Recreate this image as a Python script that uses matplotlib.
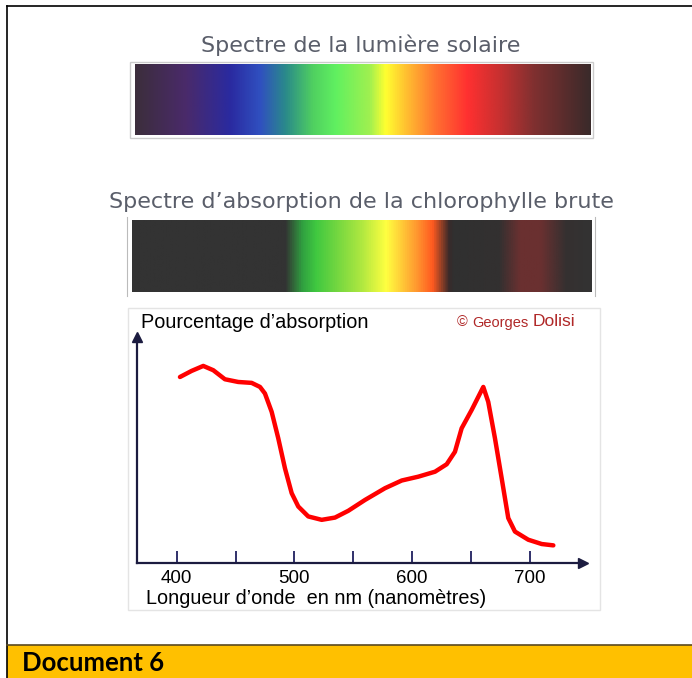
import matplotlib
matplotlib.use("Agg")
import matplotlib.pyplot as plt
import numpy as np
from matplotlib.colors import LinearSegmentedColormap
from matplotlib.patches import Rectangle
from matplotlib.lines import Line2D

# courbe d'absorption (longueur d'onde en nm, absorption en %)
wavelength = [402.8, 412.7, 422.6, 431.1, 441.0, 452.3, 463.7, 470.8, 475.0, 480.7,
              486.3, 492.0, 497.7, 503.3, 511.8, 523.2, 534.5, 545.8, 560.0, 577.0,
              591.2, 605.3, 619.5, 629.4, 636.4, 642.1, 650.6, 660.5, 664.7, 670.4,
              676.1, 681.7, 687.4, 698.7, 710.1, 720.0]
absorption = [82.3, 85.0, 87.2, 85.3, 81.3, 80.1, 79.7, 77.9, 75.0, 66.9,
              55.2, 41.9, 30.9, 25.0, 20.6, 19.1, 20.1, 23.1, 27.9, 33.1,
              36.5, 38.2, 40.4, 43.7, 49.2, 59.6, 67.7, 77.9, 71.3, 55.2,
              37.5, 19.9, 13.9, 10.3, 8.4, 7.8]
major_ticks = [400, 500, 600, 700]
minor_ticks = [450, 550, 650]

# couleurs des deux bandes (position relative, couleur)
solar_stops = [(0.0, "#3c2e3c"), (0.11, "#4a2a6a"), (0.208, "#2a2aa0"), (0.274, "#3050c0"),
               (0.33, "#2a8a8a"), (0.39, "#50d060"), (0.44, "#60f060"), (0.515, "#a0f050"),
               (0.55, "#ffff30"), (0.595, "#ffc030"), (0.66, "#ff7030"), (0.73, "#ff3030"),
               (0.80, "#c83030"), (0.876, "#803030"), (1.0, "#3a2a2a")]
chloro_stops = [(0.0, "#333333"), (0.333, "#333333"), (0.37, "#30a040"), (0.40, "#40c840"),
                (0.50, "#b0e840"), (0.553, "#ffff40"), (0.618, "#ff9a30"), (0.654, "#ff5a20"),
                (0.69, "#3a2a2a"), (0.70, "#303030"), (0.80, "#333030"), (0.845, "#6a3030"),
                (0.89, "#6a3030"), (0.945, "#353030"), (1.0, "#333333")]

W, H = 692, 678
fig = plt.figure(figsize=(W / 100, H / 100), dpi=100)


def box(x0, y0, x1, y1):
    return [x0 / W, 1 - y1 / H, (x1 - x0) / W, (y1 - y0) / H]


def fx(px):
    return px / W


def fy(py):
    return 1 - py / H


# cadre du document
fig.add_artist(Line2D([fx(7), fx(7)], [fy(6), fy(678)], color="black", lw=1.2))
fig.add_artist(Line2D([fx(7), fx(692)], [fy(6), fy(6)], color="black", lw=1.2))
fig.add_artist(Rectangle((fx(7), 0), fx(692) - fx(7), fy(645), facecolor="#ffc000",
                         edgecolor="none", zorder=-1))
fig.add_artist(Line2D([fx(7), fx(692)], [fy(645), fy(645)], color="#5a4a20", lw=1.2))
fig.text(fx(22), fy(663), "Document 6", fontsize=18.5, fontweight="bold",
         family="Lato", va="center", ha="left", color="black")

title_col = "#5a5e6a"
fig.text(fx(361), fy(45), "Spectre de la lumière solaire", fontsize=16, color=title_col,
         ha="center", va="center")
fig.text(fx(361), fy(202), "Spectre d\u2019absorption de la chlorophylle brute", fontsize=16,
         color=title_col, ha="center", va="center")

grad = np.linspace(0, 1, 512).reshape(1, -1)

fig.add_artist(Rectangle((fx(130), fy(138)), fx(593) - fx(130), fy(62) - fy(138),
                         facecolor="white", edgecolor="#cccccc", lw=1, zorder=-1))
ax1 = fig.add_axes(box(135, 64, 590, 135))
ax1.imshow(grad, aspect="auto", cmap=LinearSegmentedColormap.from_list("sol", solar_stops))
ax1.axis("off")

ax2 = fig.add_axes(box(132, 220, 592, 292))
ax2.imshow(grad, aspect="auto", cmap=LinearSegmentedColormap.from_list("chl", chloro_stops))
ax2.axis("off")
for xp in (127, 595):
    fig.add_artist(Line2D([fx(xp), fx(xp)], [fy(217), fy(296)], color="#bbbbbb", lw=0.8))

# panneau du graphique
fig.add_artist(Rectangle((fx(128), fy(610)), fx(600) - fx(128), fy(308) - fy(610),
                         facecolor="white", edgecolor="#e4e4e4", lw=1, zorder=-1))

ax = fig.add_axes(box(137, 337, 583, 563))
ax.set_xlim(366.3, 745.2)
ax.set_ylim(0, 100)
ax.patch.set_alpha(0)
ax.plot(wavelength, absorption, color="#ff0000", lw=3.2, solid_capstyle="round",
        solid_joinstyle="round")

axis_col = "#1c1c40"
for s in ("top", "right"):
    ax.spines[s].set_visible(False)
for s in ("left", "bottom"):
    ax.spines[s].set_color(axis_col)
    ax.spines[s].set_linewidth(1.6)
ax.plot(1, 0, ">", color=axis_col, ms=7, transform=ax.transAxes, clip_on=False)
ax.plot(0, 1, "^", color=axis_col, ms=7, transform=ax.transAxes, clip_on=False)

ax.set_xticks(major_ticks)
ax.set_xticks(minor_ticks, minor=True)
ax.set_yticks([])
ax.tick_params(axis="x", which="both", direction="in", length=8.5, width=1.4,
               color="#30306a", labelsize=13.5, pad=5)
for t in ax.get_xticklabels():
    t.set_family("Liberation Sans")

fig.text(fx(141), fy(323), "Pourcentage d\u2019absorption", fontsize=14.3,
         family="Liberation Sans", va="center", ha="left")
fig.text(fx(146), fy(599), "Longueur d\u2019onde  en nm (nanomètres)", fontsize=14.3,
         family="Liberation Sans", va="center", ha="left")
fig.text(fx(457), fy(322), "\u00a9", fontsize=10.5, color="#b02828", family="Liberation Sans",
         va="center", ha="left")
fig.text(fx(472), fy(323), "Georges", fontsize=10.5, color="#b02828", family="Liberation Sans",
         va="center", ha="left")
fig.text(fx(533), fy(322), "Dolisi", fontsize=12.5, color="#b02828", family="Liberation Sans",
         va="center", ha="left")

fig.savefig("out.png", dpi=100)
